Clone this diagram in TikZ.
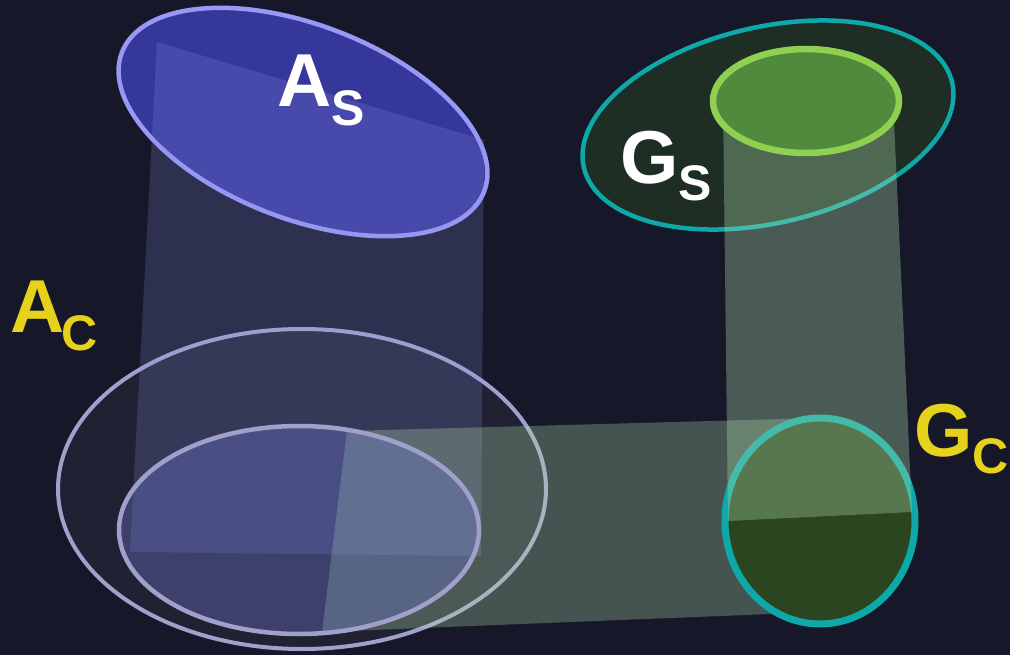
\documentclass[tikz,border=0pt]{standalone}
\usepackage{fontspec}
\setmainfont{Liberation Sans}
\begin{document}
\begin{tikzpicture}[x=1pt,y=-1pt,
  lbl/.style={anchor=base west, inner sep=0pt, font=\fontsize{75}{75}\selectfont\bfseries},
]
\definecolor{bg}{RGB}{22,24,41}
\definecolor{lav}{RGB}{160,160,202}
\definecolor{asfill}{RGB}{54,55,154}
\definecolor{asline}{RGB}{152,152,245}
\definecolor{bluebeam}{RGB}{140,150,235}
\definecolor{greenbeam}{RGB}{180,225,175}
\definecolor{innerfill}{RGB}{110,120,210}
\definecolor{teal}{RGB}{14,168,168}
\definecolor{gsfill}{RGB}{30,46,36}
\definecolor{gsin}{RGB}{80,138,60}
\definecolor{gsinline}{RGB}{144,208,80}
\definecolor{gcfill}{RGB}{42,69,32}
\definecolor{ylw}{RGB}{230,210,26}
\newcommand{\subtxt}[2]{\raisebox{-#1pt}{\fontsize{50}{50}\selectfont #2}}
\fill[bg] (0,0) rectangle (1010,655);
\useasboundingbox (0,0) rectangle (1010,655);
% A_C outer
\draw[lav, line width=4pt, fill=white, fill opacity=0.045] (302,489) ellipse [x radius=244, y radius=160];
% A_S
\begin{scope}[shift={(303,122)}, rotate=-21]
\draw[asline, line width=4.5pt, fill=asfill] (0,0) ellipse [x radius=194, y radius=97];
\end{scope}
% blue beam
\fill[bluebeam, opacity=0.2] (157,42) -- (484,140) -- (481,556) -- (130,552) -- cycle;
% G_S outer
\begin{scope}[shift={(768,125)}, rotate=13]
\draw[teal, line width=4.5pt, fill=gsfill] (0,0) ellipse [x radius=189, y radius=98];
\end{scope}
% green horizontal beam
\fill[greenbeam, opacity=0.3] (347,431) -- (820,418) -- (820,612) -- (322,632) -- cycle;
% A_C inner
\fill[innerfill, opacity=0.36] (299,530) ellipse [x radius=180, y radius=104];
\draw[lav, line width=4.5pt] (299,530) ellipse [x radius=180, y radius=104];
% G_C
\draw[teal, line width=7pt, fill=gcfill] (820,521) ellipse [x radius=95, y radius=103];
% vertical green beam
\fill[greenbeam, opacity=0.33] (723,100) -- (893,100) -- (912,512) -- (728,521) -- cycle;
% G_S inner
\draw[gsinline, line width=6.5pt, fill=gsin] (806,101) ellipse [x radius=93, y radius=52];
% labels
\node[lbl, white] (as) at (277,107) {A\subtxt{19}{S}};
\node[lbl, ylw] (ac) at (10,332) {A\kern-3pt\subtxt{18}{C}};
\node[lbl, white] (gs) at (620,184) {G\subtxt{17}{S}};
\node[lbl, ylw] (gc) at (914,456) {G\subtxt{17}{C}};
\end{tikzpicture}
\end{document}
